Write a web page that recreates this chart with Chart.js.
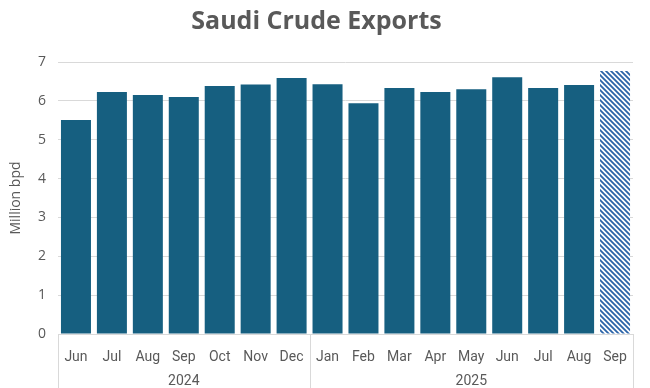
<!DOCTYPE html>
<html>
<head>
<meta charset="utf-8">
<script src="https://cdn.jsdelivr.net/npm/chart.js@4"></script>
<style>
  html, body { margin: 0; padding: 0; background: #fff; }
  #wrap { width: 650px; height: 388px; }
</style>
</head>
<body>
<div id="wrap"><canvas id="exportsChart" width="650" height="388"></canvas></div>
<script>
const months = ["Jun", "Jul", "Aug", "Sep", "Oct", "Nov", "Dec", "Jan", "Feb", "Mar", "Apr", "May", "Jun", "Jul", "Aug", "Sep"];
const years = ["2024", "2024", "2024", "2024", "2024", "2024", "2024", "2025", "2025", "2025", "2025", "2025", "2025", "2025", "2025", "2025"];
const exportsMbpd = [5.51, 6.23, 6.15, 6.10, 6.38, 6.42, 6.59, 6.43, 5.94, 6.33, 6.23, 6.30, 6.61, 6.33, 6.41, 6.77];
const estimated = [false, false, false, false, false, false, false, false, false, false, false, false, false, false, false, true];

const BAR_COLOR = "#165f80";
const GRID = "#d9d9d9";
const TEXT = "#595959";
const NARROW = "'Liberation Sans Narrow', 'Roboto', sans-serif";

// hatch fill for the estimated month
function makeHatch() {
  const c = document.createElement("canvas");
  c.width = 5;
  c.height = 5;
  const g = c.getContext("2d");
  g.fillStyle = "#ffffff";
  g.fillRect(0, 0, 5, 5);
  g.strokeStyle = "#2a63a8";
  g.lineWidth = 1.8;
  g.beginPath();
  g.moveTo(-1, -1); g.lineTo(6, 6);
  g.moveTo(-4, 1); g.lineTo(4, 9);
  g.moveTo(1, -4); g.lineTo(9, 4);
  g.stroke();
  return g.createPattern(c, "repeat");
}
const hatch = makeHatch();

// year row + group separators under the month labels
const yearGroups = {
  id: "yearGroups",
  afterDraw(chart) {
    const ctx = chart.ctx;
    const x = chart.scales.x;
    const bottom = chart.height;
    const top = chart.chartArea.bottom;

    // group boundaries
    const groups = [];
    let start = 0;
    for (let i = 1; i <= years.length; i++) {
      if (i === years.length || years[i] !== years[start]) {
        groups.push({ label: years[start], from: start, to: i - 1 });
        start = i;
      }
    }
    const edge = (i) => {
      if (i < 0) return x.left;
      if (i >= years.length - 1) return x.right;
      return (x.getPixelForValue(i) + x.getPixelForValue(i + 1)) / 2;
    };

    ctx.save();
    ctx.strokeStyle = GRID;
    ctx.lineWidth = 1;
    ctx.fillStyle = TEXT;
    ctx.font = "14px " + NARROW;
    ctx.textAlign = "center";
    ctx.textBaseline = "middle";

    const seps = [x.left];
    groups.forEach((g) => {
      const l = edge(g.from - 1);
      const r = edge(g.to);
      seps.push(r);
      ctx.fillText(g.label, (l + r) / 2, bottom - 7);
    });
    seps.forEach((px) => {
      const p = Math.round(px) + 0.5;
      ctx.beginPath();
      ctx.moveTo(p, top);
      ctx.lineTo(p, bottom);
      ctx.stroke();
    });
    ctx.restore();
  }
};

new Chart(document.getElementById("exportsChart"), {
  type: "bar",
  data: {
    labels: months,
    datasets: [{
      label: "Saudi crude exports",
      data: exportsMbpd,
      backgroundColor: estimated.map((e) => (e ? hatch : BAR_COLOR)),
      borderWidth: 0,
      categoryPercentage: 1,
      barPercentage: 0.835
    }]
  },
  options: {
    responsive: false,
    animation: false,
    layout: { padding: { left: 0, right: 17, top: 0, bottom: 0 } },
    plugins: {
      legend: { display: false },
      tooltip: { enabled: false },
      title: {
        display: true,
        text: "Saudi Crude Exports",
        color: TEXT,
        font: { family: "'Open Sans', sans-serif", size: 25, weight: "bold" },
        padding: { top: 7, bottom: 25 }
      }
    },
    scales: {
      x: {
        grid: { display: false },
        border: { color: GRID },
        ticks: { color: TEXT, font: { family: NARROW, size: 14 }, padding: 7, maxRotation: 0 },
        afterFit(scale) { scale.height = 54; }
      },
      y: {
        min: 0,
        max: 7,
        grid: { color: GRID, drawTicks: false },
        border: { display: false },
        ticks: { stepSize: 1, color: TEXT, font: { family: "'Open Sans', sans-serif", size: 14 }, padding: 12 },
        title: {
          display: true,
          text: "Million bpd",
          color: TEXT,
          font: { family: "'Open Sans', sans-serif", size: 14 },
          padding: { top: 8, bottom: 0 }
        },
        afterFit(scale) { scale.width = 58; }
      }
    }
  },
  plugins: [yearGroups]
});
</script>
</body>
</html>
